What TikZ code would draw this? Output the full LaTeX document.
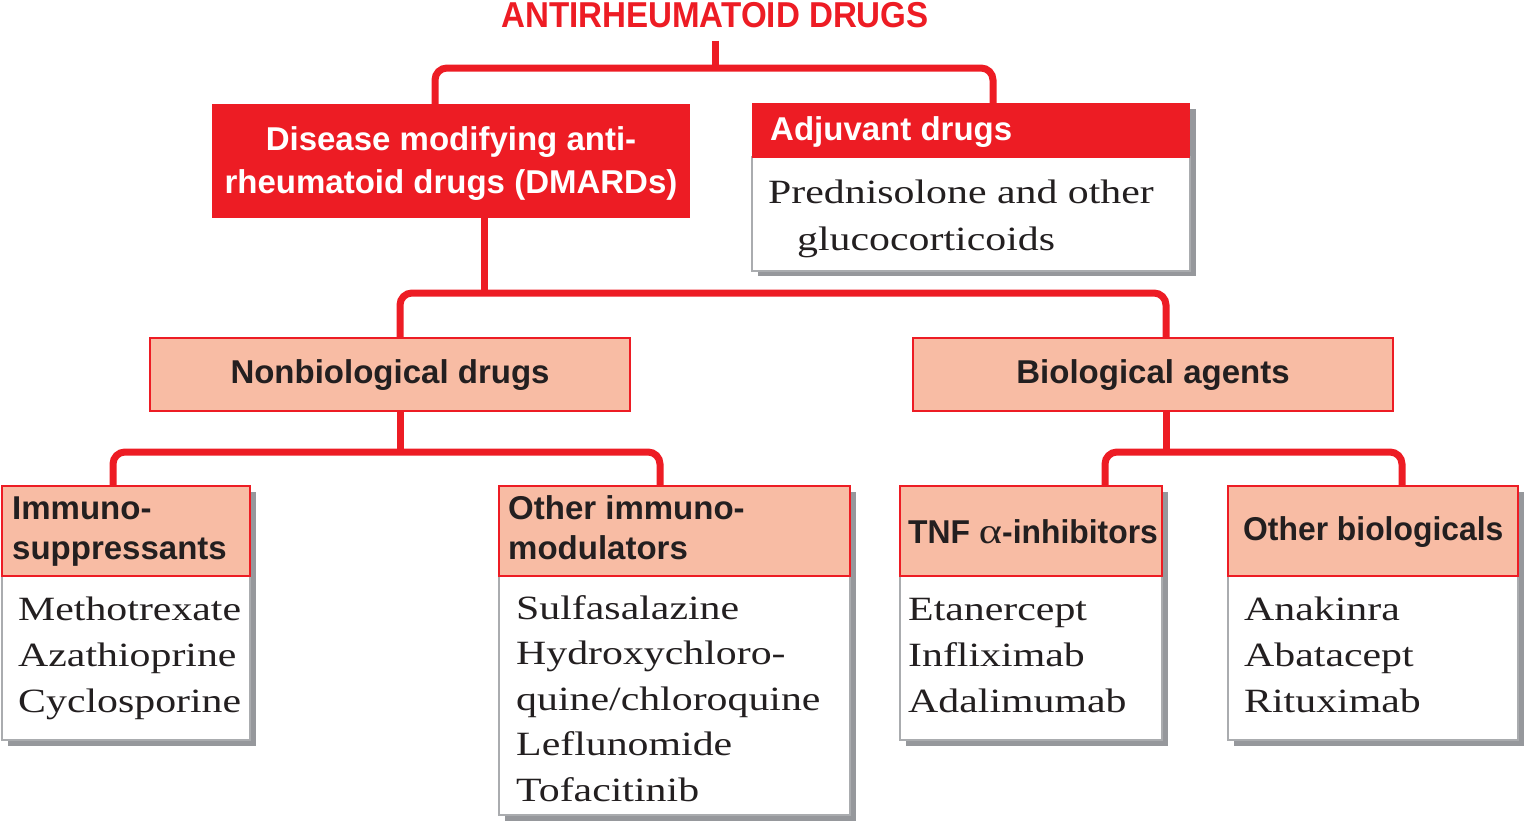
\documentclass[tikz,border=0pt]{standalone}
\usepackage{fontspec}
\setmainfont{Liberation Sans}
\newfontfamily\bodyfont[FakeStretch=1.23]{Liberation Serif}
\newfontfamily\titlefont[FakeStretch=0.92]{Liberation Sans}
\newfontfamily\condfont[FakeStretch=0.965]{Liberation Sans}
\definecolor{rd}{RGB}{237,28,36}
\definecolor{sal}{RGB}{248,188,164}
\definecolor{ink}{RGB}{35,31,32}
\definecolor{gry}{RGB}{170,172,175}
\definecolor{shd}{RGB}{150,152,156}
\newcommand\stackL[1]{\begin{tabular}[t]{@{}l@{}}#1\end{tabular}}
\newcommand\stackC[1]{\begin{tabular}[t]{@{}c@{}}#1\end{tabular}}
\pgfdeclarelayer{background}
\pgfsetlayers{background,main}
\begin{document}
\begin{tikzpicture}[x=1pt,y=-1pt,
  conn/.style={draw=rd, line width=7pt, rounded corners=12pt},
  rect/.style={rectangle, anchor=north west, inner sep=0pt, outer sep=0pt},
  redbox/.style={rect, fill=rd},
  salbox/.style={rect, fill=sal, draw=rd, line width=1.8pt},
  bodybox/.style={rect, fill=white, draw=gry, line width=1.8pt},
  shadowbox/.style={rect, fill=shd},
  hdtext/.style={inner sep=0pt, text=ink, font=\fontsize{33}{40}\selectfont\bfseries},
  cdtext/.style={inner sep=0pt, text=ink, font=\condfont\fontsize{33}{40}\selectfont\bfseries},
  whtext/.style={inner sep=0pt, text=white, font=\fontsize{33}{43}\selectfont\bfseries},
  bdtext/.style={inner sep=0pt, text=ink, font=\bodyfont\fontsize{34}{46}\selectfont}
]
\useasboundingbox (0,0) rectangle (1525,823);

% title
\node[inner sep=0pt, anchor=base, text=rd, font=\titlefont\bfseries\fontsize{36}{40}\selectfont] (title) at (715,27) {ANTIRHEUMATOID DRUGS};

% level 1
\node[redbox, minimum width=478pt, minimum height=114pt] (dm) at (212,104) {};
\node[whtext, anchor=base] (dmT) at (451,150) {\stackC{Disease modifying anti-\\rheumatoid drugs (DMARDs)}};

\node[shadowbox, minimum width=438pt, minimum height=167pt] (adjS) at (758,109) {};
\node[bodybox, minimum width=438pt, minimum height=114pt] (adjB) at (752,157) {};
\node[redbox, minimum width=438pt, minimum height=55pt] (adjH) at (752,103) {};
\node[whtext, anchor=base west] (adjT) at (770,140) {Adjuvant drugs};
\node[bdtext, anchor=base west, font=\bodyfont\fontsize{34}{47}\selectfont] (adjL) at (768,203) {\stackL{Prednisolone and other\\\hspace*{29pt}glucocorticoids}};

% level 2
\node[salbox, minimum width=480pt, minimum height=73pt] (nb) at (150,338) {};
\node[hdtext, anchor=base] (nbT) at (390,383) {Nonbiological drugs};
\node[salbox, minimum width=480pt, minimum height=73pt] (bio) at (913,338) {};
\node[hdtext, anchor=base] (bioT) at (1153,383) {Biological agents};

% level 3
\node[shadowbox, minimum width=248pt, minimum height=254pt] (imS) at (8,492) {};
\node[bodybox, minimum width=248pt, minimum height=164pt] (imB) at (2,576) {};
\node[salbox, minimum width=248pt, minimum height=90pt] (imH) at (2,486) {};
\node[hdtext, anchor=base west] (imT) at (12,519) {\stackL{Immuno-\\suppressants}};
\node[bdtext, anchor=base west] (imL) at (18,620) {\stackL{Methotrexate\\Azathioprine\\Cyclosporine}};

\node[shadowbox, minimum width=351pt, minimum height=329pt] (omS) at (505,492) {};
\node[bodybox, minimum width=351pt, minimum height=239pt] (omB) at (499,576) {};
\node[salbox, minimum width=351pt, minimum height=90pt] (omH) at (499,486) {};
\node[hdtext, anchor=base west] (omT) at (508,519) {\stackL{Other immuno-\\modulators}};
\node[bdtext, anchor=base west, font=\bodyfont\fontsize{34}{45.5}\selectfont] (omL) at (516,619) {\stackL{Sulfasalazine\\Hydroxychloro-\\quine/chloroquine\\Leflunomide\\Tofacitinib}};

\node[shadowbox, minimum width=262pt, minimum height=254pt] (tnS) at (906,492) {};
\node[bodybox, minimum width=262pt, minimum height=164pt] (tnB) at (900,576) {};
\node[salbox, minimum width=262pt, minimum height=90pt] (tnH) at (900,486) {};
\node[cdtext, anchor=base west] (tnT) at (908,543) {TNF {\bodyfont\mdseries\fontsize{36}{40}\selectfont α}-inhibitors};
\node[bdtext, anchor=base west] (tnL) at (908,620) {\stackL{Etanercept\\Infliximab\\Adalimumab}};

\node[shadowbox, minimum width=290pt, minimum height=254pt] (obS) at (1234,492) {};
\node[bodybox, minimum width=290pt, minimum height=164pt] (obB) at (1228,576) {};
\node[salbox, minimum width=290pt, minimum height=90pt] (obH) at (1228,486) {};
\node[cdtext, anchor=base west] (obT) at (1243,540) {Other biologicals};
\node[bdtext, anchor=base west] (obL) at (1244,620) {\stackL{Anakinra\\Abatacept\\Rituximab}};

% connectors
\coordinate (j1) at (715,68);
\coordinate (j2) at (484,293);
\coordinate (j3) at (400,452);
\coordinate (j4) at (1166,452);
\begin{pgfonlayer}{background}
\draw[conn] ([yshift=-13pt]title.south) -- (j1);
\draw[conn] ([xshift=223pt]dm.north west) |- (j1) -| ([xshift=241pt]adjH.north west);
\draw[conn] ([xshift=272pt]dm.south west) -- (j2);
\draw[conn] ([xshift=250pt]nb.north west) |- (j2) -| ([xshift=253pt]bio.north west);
\draw[conn] ([xshift=250pt]nb.south west) -- (j3);
\draw[conn] ([xshift=111pt]imH.north west) |- (j3) -| ([xshift=161pt]omH.north west);
\draw[conn] ([xshift=253pt]bio.south west) -- (j4);
\draw[conn] ([xshift=205pt]tnH.north west) |- (j4) -| ([xshift=174pt]obH.north west);
\end{pgfonlayer}
\end{tikzpicture}
\end{document}
